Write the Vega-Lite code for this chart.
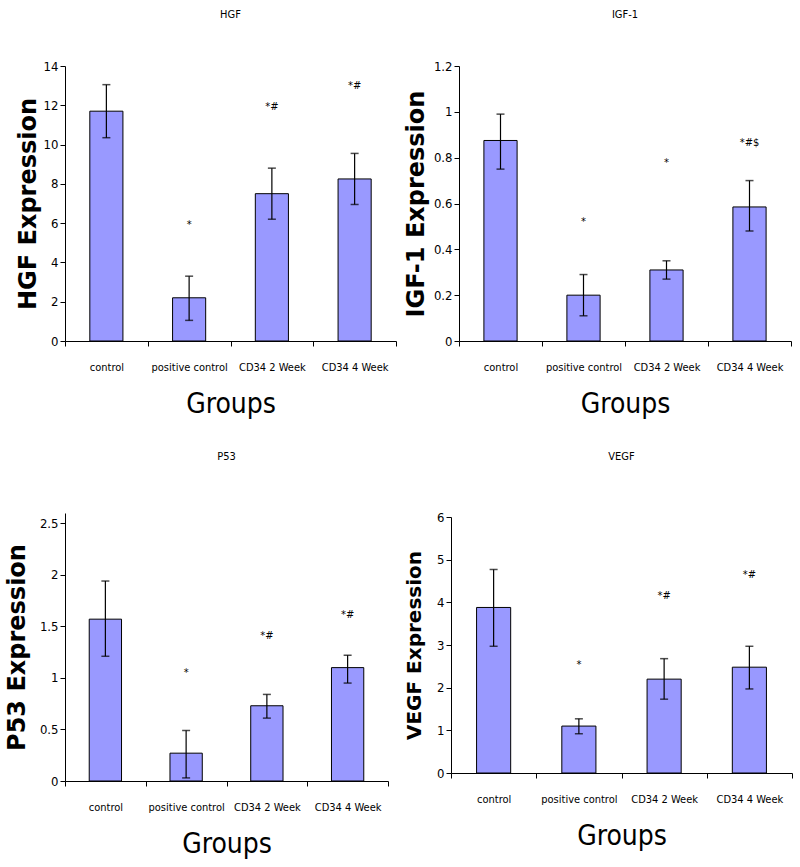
{
  "$schema": "https://vega.github.io/schema/vega-lite/v6.json",
  "padding": {"top": 9, "left": 5, "right": 5, "bottom": 5},
  "background": "white",
  "datasets": {
    "expr": [
      {"gene": "HGF", "group": "control", "mean": 11.7, "lo": 10.35, "hi": 13.05, "sig": "", "sigY": null},
      {"gene": "HGF", "group": "positive control", "mean": 2.2, "lo": 1.05, "hi": 3.3, "sig": "*", "sigY": 5.9},
      {"gene": "HGF", "group": "CD34 2 Week", "mean": 7.5, "lo": 6.2, "hi": 8.8, "sig": "*#", "sigY": 11.9},
      {"gene": "HGF", "group": "CD34 4 Week", "mean": 8.25, "lo": 6.95, "hi": 9.55, "sig": "*#", "sigY": 13.0},
      {"gene": "IGF-1", "group": "control", "mean": 0.875, "lo": 0.75, "hi": 0.99, "sig": "", "sigY": null},
      {"gene": "IGF-1", "group": "positive control", "mean": 0.2, "lo": 0.11, "hi": 0.29, "sig": "*", "sigY": 0.52},
      {"gene": "IGF-1", "group": "CD34 2 Week", "mean": 0.31, "lo": 0.27, "hi": 0.35, "sig": "*", "sigY": 0.777},
      {"gene": "IGF-1", "group": "CD34 4 Week", "mean": 0.585, "lo": 0.48, "hi": 0.70, "sig": "*#$", "sigY": 0.864},
      {"gene": "P53", "group": "control", "mean": 1.57, "lo": 1.21, "hi": 1.94, "sig": "", "sigY": null},
      {"gene": "P53", "group": "positive control", "mean": 0.27, "lo": 0.03, "hi": 0.49, "sig": "*", "sigY": 1.045},
      {"gene": "P53", "group": "CD34 2 Week", "mean": 0.73, "lo": 0.61, "hi": 0.84, "sig": "*#", "sigY": 1.41},
      {"gene": "P53", "group": "CD34 4 Week", "mean": 1.1, "lo": 0.95, "hi": 1.22, "sig": "*#", "sigY": 1.61},
      {"gene": "VEGF", "group": "control", "mean": 3.88, "lo": 2.97, "hi": 4.77, "sig": "", "sigY": null},
      {"gene": "VEGF", "group": "positive control", "mean": 1.1, "lo": 0.92, "hi": 1.27, "sig": "*", "sigY": 2.53},
      {"gene": "VEGF", "group": "CD34 2 Week", "mean": 2.2, "lo": 1.73, "hi": 2.68, "sig": "*#", "sigY": 4.15},
      {"gene": "VEGF", "group": "CD34 4 Week", "mean": 2.48, "lo": 1.97, "hi": 2.97, "sig": "*#", "sigY": 4.64}
    ]
  },
  "config": {
    "view": {"stroke": null},
    "axis": {"domainColor": "#000", "tickColor": "#000", "labelColor": "#000", "titleColor": "#000", "grid": false, "domainWidth": 1, "tickWidth": 1, "tickSize": 5},
    "axisX": {"labelAngle": 0, "tickBand": "extent", "labelPadding": 15, "labelFont": "DejaVu Sans Condensed", "labelFontSize": 11, "titleFont": "DejaVu Sans Condensed", "titleFontSize": 28, "titleFontWeight": "normal", "titlePadding": 18},
    "axisY": {"format": "~g", "labelOverlap": false, "labelFont": "DejaVu Sans Condensed", "labelFontSize": 13, "titleFont": "DejaVu Sans", "titleFontSize": 24, "titleFontWeight": "bold", "titlePadding": 10},
    "title": {"font": "DejaVu Sans Condensed", "fontSize": 11, "fontWeight": "normal", "color": "#000"},
    "bar": {"fill": "#9999ff", "stroke": "#000", "strokeWidth": 1},
    "rule": {"color": "#000", "strokeWidth": 1.2},
    "tick": {"color": "#000", "thickness": 1.5},
    "text": {"font": "DejaVu Sans Condensed", "fontSize": 11, "color": "#000"}
  },
  "columns": 2,
  "align": "none",
  "spacing": {"row": 33, "column": 7},
  "concat": [
    {
      "width": 331, "height": 275,
      "title": {"text": "HGF", "offset": 40},
      "data": {"name": "expr"},
      "transform": [{"filter": "datum.gene === 'HGF'"}],
      "encoding": {
        "x": {"field": "group", "type": "nominal", "sort": ["control", "positive control", "CD34 2 Week", "CD34 4 Week"],
          "scale": {"paddingInner": 0, "paddingOuter": 0}, "axis": {"title": "Groups"}}
      },
      "layer": [
        {"mark": {"type": "bar", "width": {"band": 0.4}},
         "encoding": {"y": {"field": "mean", "type": "quantitative", "scale": {"domain": [0, 14]}, "axis": {"title": "HGF Expression", "values": [0, 2, 4, 6, 8, 10, 12, 14], "titlePadding": 3}}}},
        {"mark": {"type": "rule"}, "encoding": {"y": {"field": "lo", "type": "quantitative", "axis": {"title": "HGF Expression", "values": [0, 2, 4, 6, 8, 10, 12, 14], "titlePadding": 3}}, "y2": {"field": "hi"}}},
        {"mark": {"type": "tick", "size": 8}, "encoding": {"y": {"field": "lo", "type": "quantitative", "axis": {"title": "HGF Expression", "values": [0, 2, 4, 6, 8, 10, 12, 14], "titlePadding": 3}}}},
        {"mark": {"type": "tick", "size": 8}, "encoding": {"y": {"field": "hi", "type": "quantitative", "axis": {"title": "HGF Expression", "values": [0, 2, 4, 6, 8, 10, 12, 14], "titlePadding": 3}}}},
        {"transform": [{"filter": "datum.sig !== ''"}], "mark": {"type": "text"},
         "encoding": {"y": {"field": "sigY", "type": "quantitative", "axis": {"title": "HGF Expression", "values": [0, 2, 4, 6, 8, 10, 12, 14], "titlePadding": 3}}, "text": {"field": "sig"}}}
      ]
    },
    {
      "width": 332, "height": 275,
      "title": {"text": "IGF-1", "offset": 40},
      "data": {"name": "expr"},
      "transform": [{"filter": "datum.gene === 'IGF-1'"}],
      "encoding": {
        "x": {"field": "group", "type": "nominal", "sort": ["control", "positive control", "CD34 2 Week", "CD34 4 Week"],
          "scale": {"paddingInner": 0, "paddingOuter": 0}, "axis": {"title": "Groups"}}
      },
      "layer": [
        {"mark": {"type": "bar", "width": {"band": 0.4}},
         "encoding": {"y": {"field": "mean", "type": "quantitative", "scale": {"domain": [0, 1.2]}, "axis": {"title": "IGF-1 Expression", "values": [0, 0.2, 0.4, 0.6, 0.8, 1, 1.2], "titlePadding": 5}}}},
        {"mark": {"type": "rule"}, "encoding": {"y": {"field": "lo", "type": "quantitative", "axis": {"title": "IGF-1 Expression", "values": [0, 0.2, 0.4, 0.6, 0.8, 1, 1.2], "titlePadding": 5}}, "y2": {"field": "hi"}}},
        {"mark": {"type": "tick", "size": 8}, "encoding": {"y": {"field": "lo", "type": "quantitative", "axis": {"title": "IGF-1 Expression", "values": [0, 0.2, 0.4, 0.6, 0.8, 1, 1.2], "titlePadding": 5}}}},
        {"mark": {"type": "tick", "size": 8}, "encoding": {"y": {"field": "hi", "type": "quantitative", "axis": {"title": "IGF-1 Expression", "values": [0, 0.2, 0.4, 0.6, 0.8, 1, 1.2], "titlePadding": 5}}}},
        {"transform": [{"filter": "datum.sig !== ''"}], "mark": {"type": "text"},
         "encoding": {"y": {"field": "sigY", "type": "quantitative", "axis": {"title": "IGF-1 Expression", "values": [0, 0.2, 0.4, 0.6, 0.8, 1, 1.2], "titlePadding": 5}}, "text": {"field": "sig"}}}
      ]
    },
    {
      "width": 323, "height": 268,
      "title": {"text": "P53", "offset": 51},
      "data": {"name": "expr"},
      "transform": [{"filter": "datum.gene === 'P53'"}],
      "encoding": {
        "x": {"field": "group", "type": "nominal", "sort": ["control", "positive control", "CD34 2 Week", "CD34 4 Week"],
          "scale": {"paddingInner": 0, "paddingOuter": 0}, "axis": {"title": "Groups"}}
      },
      "layer": [
        {"mark": {"type": "bar", "width": {"band": 0.4}},
         "encoding": {"y": {"field": "mean", "type": "quantitative", "scale": {"domain": [0, 2.5]}, "axis": {"title": "P53 Expression", "values": [0, 0.5, 1, 1.5, 2, 2.5]}}}},
        {"mark": {"type": "rule"}, "encoding": {"y": {"field": "lo", "type": "quantitative", "axis": {"title": "P53 Expression", "values": [0, 0.5, 1, 1.5, 2, 2.5]}}, "y2": {"field": "hi"}}},
        {"mark": {"type": "tick", "size": 8}, "encoding": {"y": {"field": "lo", "type": "quantitative", "axis": {"title": "P53 Expression", "values": [0, 0.5, 1, 1.5, 2, 2.5]}}}},
        {"mark": {"type": "tick", "size": 8}, "encoding": {"y": {"field": "hi", "type": "quantitative", "axis": {"title": "P53 Expression", "values": [0, 0.5, 1, 1.5, 2, 2.5]}}}},
        {"transform": [{"filter": "datum.sig !== ''"}], "mark": {"type": "text"},
         "encoding": {"y": {"field": "sigY", "type": "quantitative", "axis": {"title": "P53 Expression", "values": [0, 0.5, 1, 1.5, 2, 2.5]}}, "text": {"field": "sig"}}}
      ]
    },
    {
      "width": 341, "height": 256,
      "title": {"text": "VEGF", "offset": 59, "dy": 10},
      "data": {"name": "expr"},
      "transform": [{"filter": "datum.gene === 'VEGF'"}],
      "encoding": {
        "x": {"field": "group", "type": "nominal", "sort": ["control", "positive control", "CD34 2 Week", "CD34 4 Week"],
          "scale": {"paddingInner": 0, "paddingOuter": 0}, "axis": {"title": "Groups"}}
      },
      "layer": [
        {"mark": {"type": "bar", "width": {"band": 0.4}},
         "encoding": {"y": {"field": "mean", "type": "quantitative", "scale": {"domain": [0, 6]}, "axis": {"title": "VEGF Expression", "values": [0, 1, 2, 3, 4, 5, 6], "titleFontSize": 20, "titlePadding": 12}}}},
        {"mark": {"type": "rule"}, "encoding": {"y": {"field": "lo", "type": "quantitative", "axis": {"title": "VEGF Expression", "values": [0, 1, 2, 3, 4, 5, 6], "titleFontSize": 20, "titlePadding": 12}}, "y2": {"field": "hi"}}},
        {"mark": {"type": "tick", "size": 8}, "encoding": {"y": {"field": "lo", "type": "quantitative", "axis": {"title": "VEGF Expression", "values": [0, 1, 2, 3, 4, 5, 6], "titleFontSize": 20, "titlePadding": 12}}}},
        {"mark": {"type": "tick", "size": 8}, "encoding": {"y": {"field": "hi", "type": "quantitative", "axis": {"title": "VEGF Expression", "values": [0, 1, 2, 3, 4, 5, 6], "titleFontSize": 20, "titlePadding": 12}}}},
        {"transform": [{"filter": "datum.sig !== ''"}], "mark": {"type": "text"},
         "encoding": {"y": {"field": "sigY", "type": "quantitative", "axis": {"title": "VEGF Expression", "values": [0, 1, 2, 3, 4, 5, 6], "titleFontSize": 20, "titlePadding": 12}}, "text": {"field": "sig"}}}
      ]
    }
  ]
}
